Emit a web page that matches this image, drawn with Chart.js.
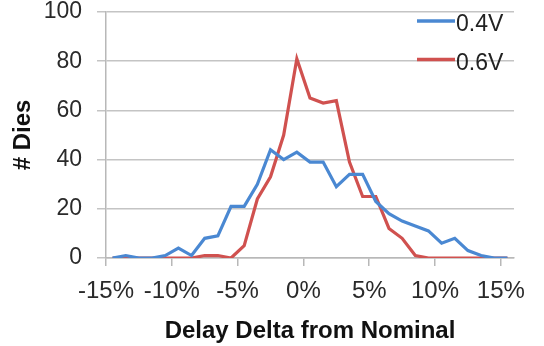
<!DOCTYPE html>
<html>
<head>
<meta charset="utf-8">
<script src="https://cdn.jsdelivr.net/npm/chart.js@4/dist/chart.umd.min.js"></script>
<style>
  html, body { margin: 0; padding: 0; background: #fff; }
  #wrap { width: 544px; height: 346px; }
</style>
</head>
<body>
<div id="wrap"><canvas id="dies-chart" width="544" height="346"></canvas></div>
<script>
// bins of delay delta (%), centre of each 1% bin
const binCenters = [-14.5, -13.5, -12.5, -11.5, -10.5, -9.5, -8.5, -7.5, -6.5, -5.5, -4.5,
  -3.5, -2.5, -1.5, -0.5, 0.5, 1.5, 2.5, 3.5, 4.5, 5.5, 6.5, 7.5, 8.5, 9.5, 10.5,
  11.5, 12.5, 13.5, 14.5, 15.5];

// number of dies per bin
const dies04V = [0, 1, 0, 0, 1, 4, 1, 8, 9, 21, 21, 30, 44, 40, 43, 39, 39, 29, 34, 34,
  23, 18, 15, 13, 11, 6, 8, 3, 1, 0, 0];
const dies06V = [0, 0, 0, 0, 0, 0, 0, 1, 1, 0, 5, 24, 33, 50, 81, 65, 63, 64, 39, 25,
  25, 12, 8, 1, 0, 0, 0, 0, 0, 0, 0];

const seriesNames = ["0.4V", "0.6V"];
const seriesColors = ["#4a88d2", "#d0514f"];

const xTicks = [-15, -10, -5, 0, 5, 10, 15];
const yTicks = [0, 20, 40, 60, 80, 100];

function toPoints(values) {
  return values.map((v, i) => ({ x: binCenters[i], y: v }));
}

// legend drawn inside the plot, top right, one entry per line
const insideLegend = {
  id: 'insideLegend',
  afterDraw(chart) {
    const ctx = chart.ctx;
    ctx.save();
    ctx.font = '23px "Liberation Sans", Arial, sans-serif';
    ctx.textBaseline = 'middle';
    ctx.textAlign = 'left';
    chart.data.datasets.forEach((ds, i) => {
      const y = 21 + i * 38.5;
      ctx.strokeStyle = ds.borderColor;
      ctx.lineWidth = 3.5;
      ctx.beginPath();
      ctx.moveTo(417, y);
      ctx.lineTo(455, y);
      ctx.stroke();
      ctx.fillStyle = '#222';
      ctx.fillText(ds.label, 456, y + 4);
    });
    ctx.restore();
  }
};

const ctx = document.getElementById('dies-chart').getContext('2d');
new Chart(ctx, {
  type: 'line',
  data: {
    datasets: [
      {
        label: seriesNames[0],
        data: toPoints(dies04V),
        borderColor: seriesColors[0],
        backgroundColor: seriesColors[0],
        borderWidth: 3.2,
        pointRadius: 0,
        tension: 0,
        fill: false
      },
      {
        label: seriesNames[1],
        data: toPoints(dies06V),
        borderColor: seriesColors[1],
        backgroundColor: seriesColors[1],
        borderWidth: 3.2,
        pointRadius: 0,
        tension: 0,
        fill: false
      }
    ]
  },
  options: {
    responsive: false,
    animation: false,
    layout: { padding: { top: 0, right: 30, bottom: 0, left: 0 } },
    plugins: {
      legend: { display: false },
      tooltip: { enabled: false }
    },
    scales: {
      x: {
        type: 'linear',
        min: -15,
        max: 16,
        afterBuildTicks: scale => { scale.ticks = xTicks.map(v => ({ value: v })); },
        afterFit: scale => { scale.height = 88; },
        ticks: {
          color: '#2a2a2a',
          padding: 11,
          font: { family: '"Liberation Sans", Arial, sans-serif', size: 24 },
          callback: v => v + '%',
          maxRotation: 0
        },
        grid: { drawOnChartArea: false, drawTicks: true, tickLength: 8, color: '#b8b8b8', lineWidth: 1.5 },
        border: { display: true, color: '#b8b8b8', width: 1.5 },
        title: {
          display: true,
          text: 'Delay Delta from Nominal',
          color: '#111',
          padding: { top: 3, bottom: 0 },
          font: { family: '"Liberation Sans", Arial, sans-serif', size: 24, weight: 'bold' }
        }
      },
      y: {
        min: 0,
        max: 100,
        afterBuildTicks: scale => { scale.ticks = yTicks.map(v => ({ value: v })); },
        afterFit: scale => { scale.width = 106; scale.paddingTop = 12; scale.paddingBottom = 0; },
        ticks: {
          color: '#2a2a2a',
          padding: 15,
          font: { family: '"Liberation Sans", Arial, sans-serif', size: 23 }
        },
        grid: { drawTicks: true, tickLength: 9, color: '#c4c4c4', lineWidth: 1.5 },
        border: { display: true, color: '#b8b8b8', width: 1.5 },
        title: {
          display: true,
          text: '# Dies',
          color: '#111',
          padding: { top: 9, bottom: 0 },
          font: { family: '"Liberation Sans", Arial, sans-serif', size: 24, weight: 'bold' }
        }
      }
    }
  },
  plugins: [insideLegend]
});
</script>
</body>
</html>
